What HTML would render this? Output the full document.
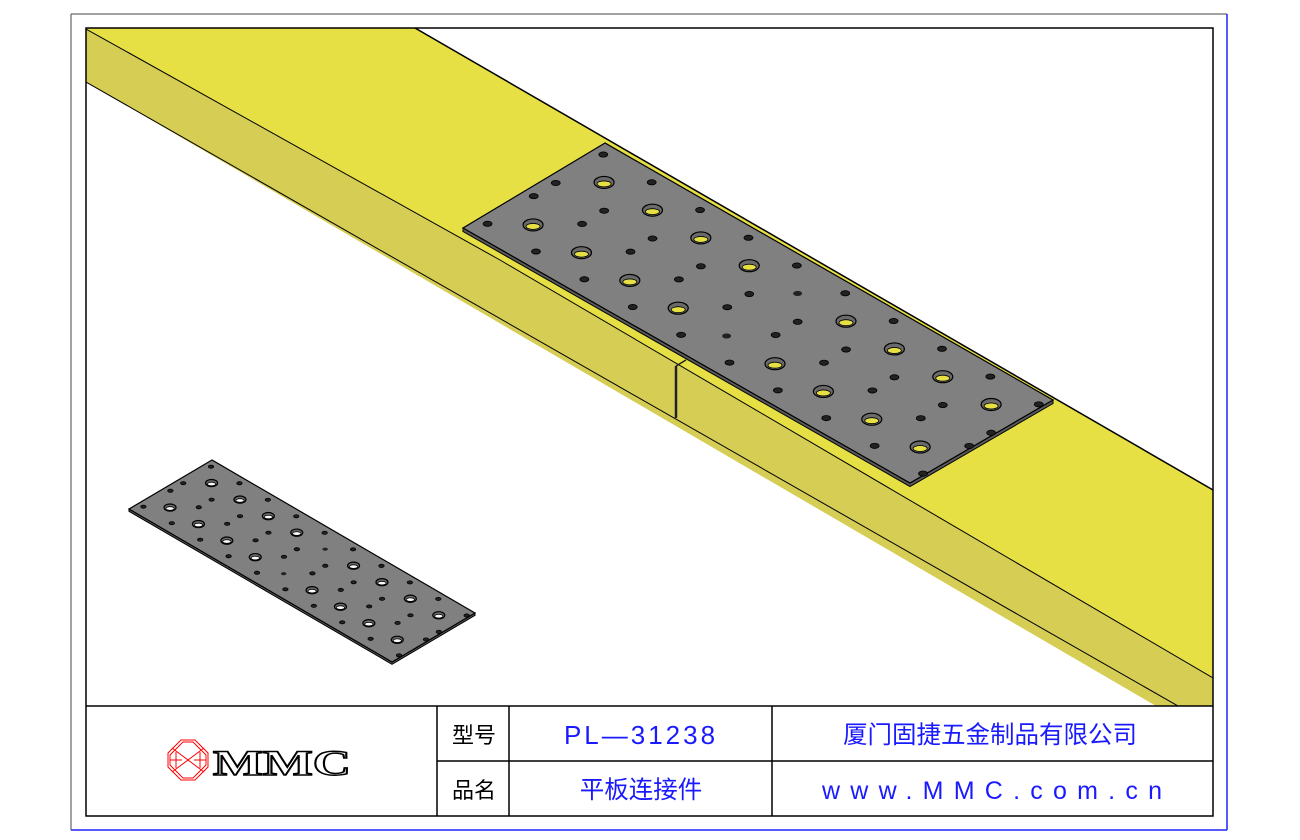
<!DOCTYPE html>
<html><head><meta charset="utf-8"><style>
html,body{margin:0;padding:0;background:#fff;}
svg{display:block;}
text{font-family:"Liberation Sans","Noto Sans CJK SC",sans-serif;}
</style></head><body>
<svg id="s" width="1300" height="840" viewBox="0 0 1300 840" xmlns="http://www.w3.org/2000/svg">
<rect x="0" y="0" width="1300" height="840" fill="#fff"/>
<line x1="71" y1="14" x2="1227" y2="14" stroke="#444" stroke-width="1"/>
<line x1="71" y1="14" x2="71" y2="830" stroke="#444" stroke-width="1"/>
<line x1="1227" y1="14" x2="1227" y2="830" stroke="#2020ff" stroke-width="1.5"/>
<line x1="71" y1="830" x2="1227" y2="830" stroke="#2020ff" stroke-width="1.5"/>
<defs><clipPath id="c"><rect x="86" y="28" width="1127" height="678"/></clipPath></defs>
<g clip-path="url(#c)">
  <polygon points="86,29 500,260 1213,678 1213,720 1180,720 86,82" fill="#d6cd55"/>
  <polygon points="86,28 415,28 1213,490 1213,678 500,260 86,29" fill="#e6e045"/>
  <polyline points="86,29 500,260 1213,678" fill="none" stroke="#000" stroke-width="1"/>
  <line x1="86" y1="82" x2="1185" y2="710" stroke="#000" stroke-width="1"/>
  <line x1="415" y1="28" x2="1213" y2="490" stroke="#000" stroke-width="1.5"/>
  <line x1="676" y1="366" x2="676" y2="418" stroke="#222" stroke-width="2.5"/>
  <line x1="676" y1="366" x2="686" y2="360" stroke="#222" stroke-width="1.5"/>
</g>
<g id="plates"></g>
<rect x="86" y="28" width="1127" height="788" fill="none" stroke="#000" stroke-width="1.5"/>
<line x1="86" y1="706" x2="1213" y2="706" stroke="#000" stroke-width="1.5"/>
<line x1="437" y1="761" x2="1213" y2="761" stroke="#000" stroke-width="1.5"/>
<line x1="437" y1="706" x2="437" y2="816" stroke="#000" stroke-width="1.5"/>
<line x1="509" y1="706" x2="509" y2="816" stroke="#000" stroke-width="1.5"/>
<line x1="772" y1="706" x2="772" y2="816" stroke="#000" stroke-width="1.5"/>
<g stroke="#ff0000" fill="none" stroke-width="1">
<polygon points="181,740 195,740 208,753 208,767 195,780 181,780 168,767 168,753"/>
<polygon points="183,742 193,742 206,755 206,765 193,778 183,778 170,765 170,755"/>
<line x1="172" y1="748" x2="204" y2="772"/><line x1="204" y1="748" x2="172" y2="772"/>
<line x1="176" y1="752" x2="176" y2="768"/><line x1="200" y1="752" x2="200" y2="768"/>
<line x1="170" y1="760" x2="182" y2="760"/><line x1="194" y1="760" x2="206" y2="760"/>
</g>
<text x="213" y="775" font-weight="bold" font-size="36" fill="#fff" stroke="#000" stroke-width="1.5" textLength="138" lengthAdjust="spacingAndGlyphs" style="font-family:'Liberation Serif',serif">MMC</text>
<text x="474" y="743" font-size="22" text-anchor="middle" fill="#000">型号</text>
<text x="474" y="798" font-size="22" text-anchor="middle" fill="#000">品名</text>
<text x="641" y="744" font-size="26" text-anchor="middle" fill="#1a1aff" letter-spacing="3">PL—31238</text>
<text x="641" y="798" font-size="24.5" text-anchor="middle" fill="#1a1aff">平板连接件</text>
<text x="990" y="743" font-size="24.5" text-anchor="middle" fill="#1a1aff">厦门固捷五金制品有限公司</text>
<text x="992" y="799" font-size="25" text-anchor="middle" fill="#1a1aff" textLength="340" lengthAdjust="spacing">www.MMC.com.cn</text>
</svg>
<script>
(function(){
var NS="http://www.w3.org/2000/svg",g=document.getElementById("plates");
function el(n,a){var e=document.createElementNS(NS,n);for(var k in a)e.setAttribute(k,a[k]);g.appendChild(e);return e;}
function plate(T,L,B,R,sc){
 var t=3*sc+0.5;
 el("polygon",{points:[L[0],L[1],B[0],B[1],R[0],R[1],R[0],R[1]+t,B[0],B[1]+t,L[0],L[1]+t].join(" "),fill:"#5a5a5a",stroke:"#000","stroke-width":1});
 el("polygon",{points:[T,L,B,R].map(function(p){return p.join(",")}).join(" "),fill:"#808080",stroke:"#000","stroke-width":1.2});
 var U=[R[0]-T[0],R[1]-T[1]],V=[L[0]-T[0],L[1]-T[1]];
 function P(a,b){return [T[0]+a*U[0]+b*V[0],T[1]+a*U[1]+b*V[1]];}
 for(var k=0;k<19;k++){
  var a=0.02+0.054*k;
  if(k%2==0){[0.075,0.41,0.565,0.89].forEach(function(b){var p=P(a,b);
    el("ellipse",{cx:p[0],cy:p[1],rx:4.5*sc,ry:2.6*sc,fill:"#222",stroke:"#000","stroke-width":0.8});});}
  else if(k==9){[0.24,0.74].forEach(function(b){var p=P(a,b);
    el("ellipse",{cx:p[0],cy:p[1],rx:4.5*sc,ry:2.6*sc,fill:"#222"});});}
  else {[0.24,0.74].forEach(function(b){var p=P(a,b);
    el("ellipse",{cx:p[0],cy:p[1],rx:10*sc,ry:6*sc,fill:"#6a6a6a",stroke:"#000","stroke-width":1.2});
    el("ellipse",{cx:p[0],cy:p[1]+1.5*sc,rx:7*sc,ry:3*sc,fill:sc>0.8?"#e6e045":"#fff",stroke:"#000","stroke-width":0.8});});}
 }
}
plate([605,143],[463,228],[910,483],[1053,400],1);
plate([212,460],[129,509],[392,662],[475,613],0.6);
})();
</script>
</body></html>
